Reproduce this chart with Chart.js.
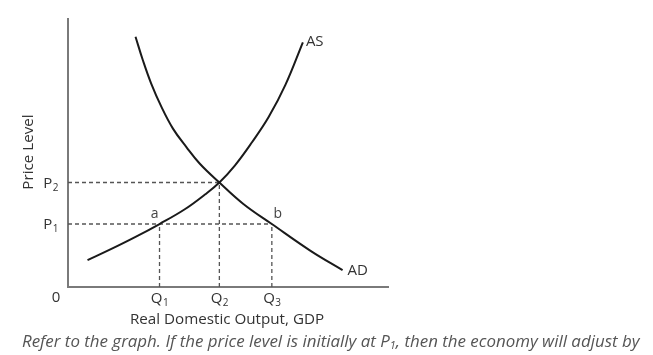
<!DOCTYPE html>
<html>
<head>
<meta charset="utf-8">
<script src="https://cdn.jsdelivr.net/npm/chart.js@4"></script>
<style>
html,body{margin:0;padding:0;background:#fff;}
#wrap{position:relative;width:653px;height:355px;}
</style>
</head>
<body>
<div id="wrap"><canvas id="c" width="653" height="355"></canvas></div>
<script>
// Data (abstract units: x = real output 0..100, y = price level 0..100)
const adX = [21.1, 23.4, 26.0, 29.2, 32.8, 37.0, 41.2, 47.3, 54.8, 63.7, 75.8, 85.8];
const adY = [93.4, 84.6, 75.9, 67.2, 59.1, 52.2, 46.0, 39.0, 31.0, 23.5, 13.5, 6.3];
const asX = [6.1, 13.4, 20.8, 28.6, 36.5, 42.8, 47.3, 52.2, 57.5, 62.7, 67.9, 73.4];
const asY = [10.0, 14.1, 18.5, 23.5, 29.0, 34.5, 39.0, 45.4, 54.0, 63.4, 75.3, 91.3];
const qTicks = [28.6, 47.3, 63.7];          // Q1, Q2, Q3
const qLabels = [["Q","1"], ["Q","2"], ["Q","3"]];
const pTicks = [23.5, 39.0];                // P1, P2
const pLabels = [["P","1"], ["P","2"]];
const pointLabels = ["a", "b"];
const curveLabels = ["AD", "AS"];
const xTitle = "Real Domestic Output, GDP";
const yTitle = "Price Level";
const caption = ["Refer to the graph. If the price level is initially at P", "1", ", then the economy will adjust by"];

const toPts = (xs, ys) => xs.map((x, i) => ({x: x, y: ys[i]}));
const dash = {borderColor: '#555', borderWidth: 1.3, borderDash: [4, 3], pointRadius: 0, fill: false, tension: 0};

const datasets = [
  {label: 'AD', data: toPts(adX, adY), borderColor: '#1a1a1a', borderWidth: 2, pointRadius: 0, tension: 0.4},
  {label: 'AS', data: toPts(asX, asY), borderColor: '#1a1a1a', borderWidth: 2, pointRadius: 0, tension: 0.4},
  Object.assign({data: [{x: 0, y: pTicks[0]}, {x: qTicks[2], y: pTicks[0]}]}, dash),
  Object.assign({data: [{x: 0, y: pTicks[1]}, {x: qTicks[1], y: pTicks[1]}]}, dash),
  Object.assign({data: [{x: qTicks[0], y: 0}, {x: qTicks[0], y: pTicks[0]}]}, dash),
  Object.assign({data: [{x: qTicks[1], y: 0}, {x: qTicks[1], y: pTicks[1]}]}, dash),
  Object.assign({data: [{x: qTicks[2], y: 0}, {x: qTicks[2], y: pTicks[0]}]}, dash)
];

const FONT = '"Open Sans", "Liberation Sans", sans-serif';

function subText(ctx, parts, x, y, size, align) {
  ctx.font = size + 'px ' + FONT;
  const w1 = ctx.measureText(parts[0]).width;
  ctx.font = Math.round(size * 0.68) + 'px ' + FONT;
  const w2 = ctx.measureText(parts[1]).width;
  const total = w1 + w2;
  let x0 = x;
  if (align === 'center') x0 = x - total / 2;
  if (align === 'right') x0 = x - total;
  ctx.textAlign = 'left';
  ctx.textBaseline = 'middle';
  ctx.font = size + 'px ' + FONT;
  ctx.fillText(parts[0], x0, y);
  ctx.font = Math.round(size * 0.68) + 'px ' + FONT;
  ctx.fillText(parts[1], x0 + w1 + 0.5, y + size * 0.3);
}

const labelsPlugin = {
  id: 'labels',
  afterDraw(chart) {
    const ctx = chart.ctx;
    const xs = chart.scales.x, ys = chart.scales.y;
    ctx.save();
    ctx.fillStyle = '#333';
    qTicks.forEach((q, i) => subText(ctx, qLabels[i], xs.getPixelForValue(q), ys.getPixelForValue(0) + 12, 15, 'center'));
    pTicks.forEach((p, i) => subText(ctx, pLabels[i], xs.getPixelForValue(0) - 10, ys.getPixelForValue(p) + 1, 15, 'right'));
    ctx.font = '15px ' + FONT;
    ctx.textAlign = 'center'; ctx.textBaseline = 'middle';
    ctx.fillText('0', xs.getPixelForValue(0) - 12, ys.getPixelForValue(0) + 11);
    ctx.textAlign = 'left';
    ctx.fillText(curveLabels[0], xs.getPixelForValue(adX[adX.length - 1]) + 5, ys.getPixelForValue(adY[adY.length - 1]) + 1);
    ctx.fillText(curveLabels[1], xs.getPixelForValue(asX[asX.length - 1]) + 3, ys.getPixelForValue(asY[asY.length - 1]) - 1);
    ctx.font = '14px ' + FONT;
    ctx.fillStyle = '#444';
    ctx.textAlign = 'center';
    ctx.fillText(pointLabels[0], xs.getPixelForValue(qTicks[0]) - 5, ys.getPixelForValue(pTicks[0]) - 10);
    ctx.fillText(pointLabels[1], xs.getPixelForValue(qTicks[2]) + 6, ys.getPixelForValue(pTicks[0]) - 10);
    ctx.fillStyle = '#333';
    ctx.font = '15.2px ' + FONT;
    ctx.fillText(xTitle, 227, 320);
    ctx.save();
    ctx.translate(29, 152);
    ctx.rotate(-Math.PI / 2);
    ctx.fillText(yTitle, 0, 0);
    ctx.restore();
    ctx.fillStyle = '#555';
    ctx.textAlign = 'left';
    const it = 'italic 16.9px ' + FONT;
    ctx.font = it;
    let cx = 22;
    ctx.fillText(caption[0], cx, 342);
    cx += ctx.measureText(caption[0]).width;
    ctx.font = 'italic 11px ' + FONT;
    ctx.fillText(caption[1], cx, 346);
    cx += ctx.measureText(caption[1]).width;
    ctx.font = it;
    ctx.fillText(caption[2], cx, 342);
    ctx.restore();
  }
};

new Chart(document.getElementById('c'), {
  type: 'line',
  data: {datasets: datasets},
  plugins: [labelsPlugin],
  options: {
    responsive: false,
    animation: false,
    events: [],
    layout: {padding: {left: 68, right: 265, top: 19, bottom: 68}},
    plugins: {legend: {display: false}, tooltip: {enabled: false}},
    scales: {
      x: {type: 'linear', min: 0, max: 100,
          grid: {display: false, drawTicks: false},
          border: {display: true, color: '#7a7a7a', width: 2},
          ticks: {display: false}},
      y: {type: 'linear', min: 0, max: 100,
          grid: {display: false, drawTicks: false},
          border: {display: true, color: '#7a7a7a', width: 2},
          ticks: {display: false}}
    }
  }
});
</script>
</body>
</html>
